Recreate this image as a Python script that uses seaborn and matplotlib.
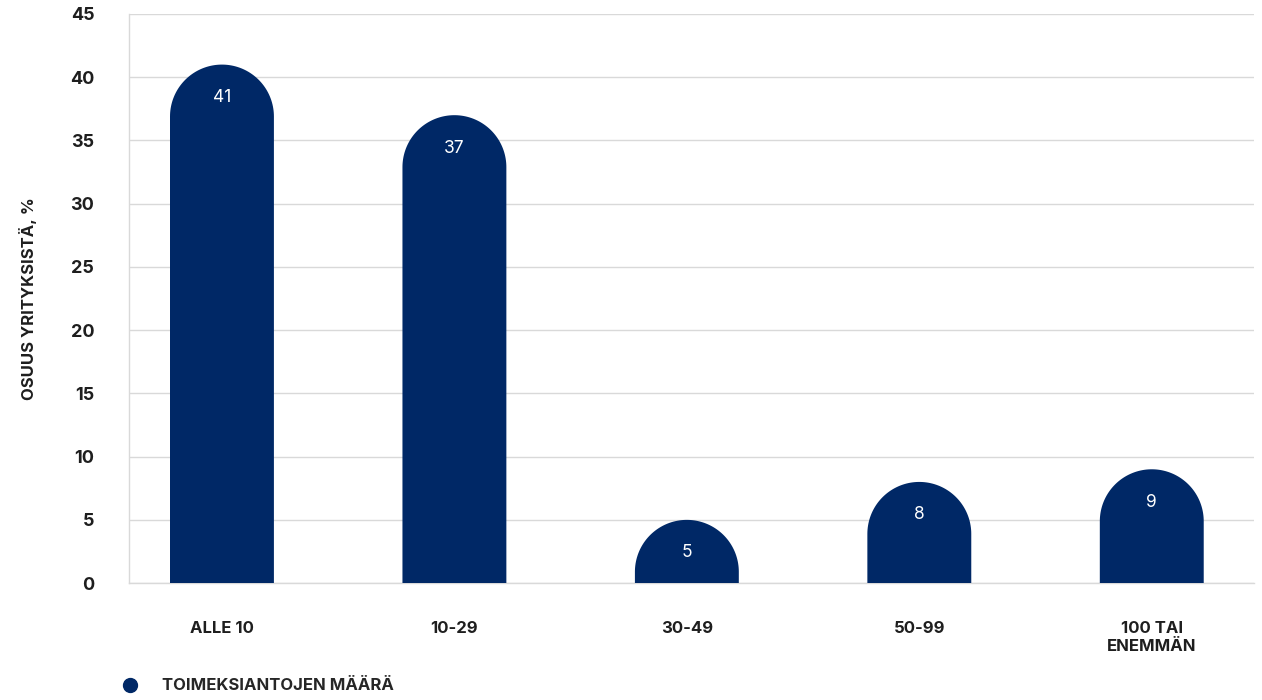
import matplotlib
matplotlib.use("Agg")
import matplotlib.pyplot as plt
import seaborn as sns
import pandas as pd
import numpy as np
from matplotlib.patches import PathPatch
from matplotlib.path import Path
from matplotlib.lines import Line2D

categories = ["ALLE 10", "10-29", "30-49", "50-99", "100 TAI\nENEMMÄN"]
values = [41, 37, 5, 8, 9]
yticks = [0, 5, 10, 15, 20, 25, 30, 35, 40, 45]
ylabel = "OSUUS YRITYKSISTÄ, %"
legend_label = "TOIMEKSIANTOJEN MÄÄRÄ"

BAR = "#002866"
GRID = "#d9d9d9"
TXT = "#1e1e1e"

sns.set_theme(style="white")
plt.rcParams["font.family"] = ["Inter", "DejaVu Sans"]

fig = plt.figure(figsize=(12.62, 7.0), dpi=100)
ax = fig.add_axes([0.1022, 0.167, 0.8915, 0.813])

df = pd.DataFrame({"cat": categories, "val": values})
sns.barplot(data=df, x="cat", y="val", color=BAR, saturation=1, width=0.447, ax=ax, zorder=3)

ax.set_ylim(0, 45)
ax.set_xlim(-0.4, 4.44)

# convert bar half-width into y units so the cap is a semicircle in pixels
fig.canvas.draw()
bbox = ax.get_window_extent()
px_per_x = bbox.width / (4.44 + 0.4)
px_per_y = bbox.height / 45.0

theta = np.linspace(np.pi, 0, 80)
for p, v in zip(ax.patches, values):
    w = p.get_width()
    x0 = p.get_x()
    xc = x0 + w / 2
    rx = w / 2
    ry = rx * px_per_x / px_per_y
    base = v - ry
    arc = np.column_stack([xc + rx * np.cos(theta), base + ry * np.sin(theta)])
    verts = np.vstack([[x0, 0], [x0, base], arc, [x0 + w, base], [x0 + w, 0], [x0, 0]])
    codes = [Path.MOVETO] + [Path.LINETO] * (len(verts) - 2) + [Path.CLOSEPOLY]
    pp = PathPatch(Path(verts, codes), facecolor=BAR, edgecolor="none", zorder=3)
    ax.add_patch(pp)
    p.set_visible(False)
    ax.text(xc, v - 2.6, str(v), ha="center", va="center", color="white", fontsize=12.5, zorder=4)

ax.set_yticks(yticks)
ax.set_yticklabels([str(t) for t in yticks], fontsize=13, fontweight="bold", color=TXT)
ax.tick_params(axis="y", length=5, color=GRID, width=1, pad=20)
ax.tick_params(axis="x", length=0, pad=27)
for lbl in ax.get_xticklabels():
    lbl.set_fontsize(12)
    lbl.set_fontweight("bold")
    lbl.set_color(TXT)
    lbl.set_linespacing(1.25)

ax.yaxis.grid(True, color=GRID, linewidth=1, zorder=0)
ax.set_axisbelow(True)
for s in ["top", "right"]:
    ax.spines[s].set_visible(False)
ax.spines["left"].set_color(GRID)
ax.spines["bottom"].set_color(GRID)
ax.spines["left"].set_linewidth(1)
ax.spines["bottom"].set_linewidth(1)

ax.set_xlabel("")
ax.set_ylabel(ylabel, fontsize=12, fontweight="bold", color=TXT, labelpad=24)

handle = Line2D([], [], marker="o", linestyle="none", markersize=10, color=BAR)
fig.legend([handle], [legend_label], loc="center left", bbox_to_anchor=(0.078, 0.02),
           frameon=False, prop={"weight": "bold", "size": 12}, handletextpad=0.9)

fig.savefig("out.png", dpi=100)
